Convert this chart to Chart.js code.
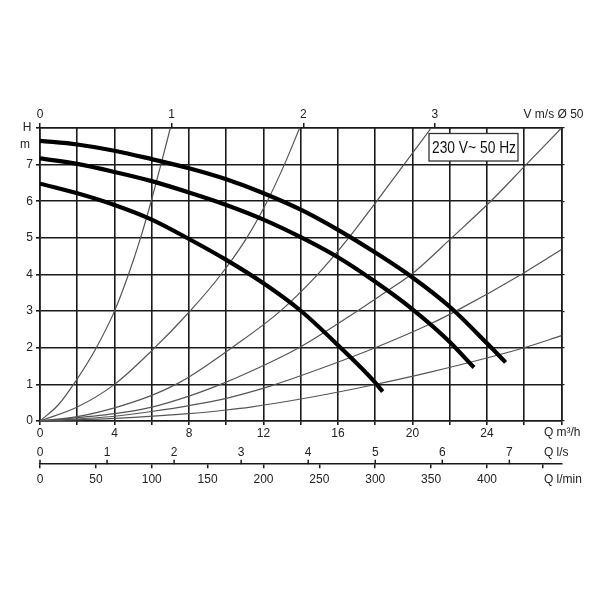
<!DOCTYPE html>
<html>
<head>
<meta charset="utf-8">
<script src="https://cdn.jsdelivr.net/npm/chart.js@4.4.1/dist/chart.umd.min.js"></script>
<style>
  html, body { margin: 0; padding: 0; background: #fff; }
</style>
</head>
<body>
<canvas id="chart" width="600" height="600"></canvas>
<script>
// pump curves: Q in m3/h, H in m
const pumpHighQ = [0, 2, 4, 6, 8, 10, 12, 14, 16, 18, 20, 22, 24, 25];
const pumpHighH = [7.65, 7.55, 7.38, 7.15, 6.9, 6.6, 6.22, 5.77, 5.22, 4.6, 3.92, 3.12, 2.12, 1.6];
const pumpMidQ = [0, 2, 4, 6, 8, 10, 12, 14, 16, 18, 20, 22, 23.3];
const pumpMidH = [7.17, 7.02, 6.8, 6.55, 6.24, 5.9, 5.5, 5.02, 4.47, 3.8, 3.05, 2.16, 1.46];
const pumpLowQ = [0, 2, 4, 6, 8, 10, 12, 14, 16, 18, 18.4];
const pumpLowH = [6.48, 6.22, 5.9, 5.5, 4.97, 4.4, 3.76, 3.01, 2.07, 1.05, 0.8];

// system curves (thin)
const sys1Q = [0, 1, 2, 3, 4, 4.75, 5.4, 5.97, 6.49, 7.0];
const sys1H = [0, 0.45, 1.15, 1.98, 3.0, 4, 5, 6, 7, 8];
const sys2Q = [0, 2, 4, 6, 8, 9.72, 11.1, 12.2, 13.12, 13.94];
const sys2H = [0, 0.38, 1.0, 1.92, 2.97, 4, 5, 6, 7, 8];
const sys3Q = [0, 2, 4, 6, 7.3, 8, 10.3, 12.9, 14.85, 16.5, 18.0, 19.5, 21.0];
const sys3H = [0, 0.12, 0.36, 0.7, 1.0, 1.2, 2.0, 3.0, 3.97, 4.95, 5.95, 6.97, 8.0];
const sys4Q = [0, 4, 6, 8, 9.7, 11.3, 13.9, 16.94, 18.5, 20.1, 22.1, 24.2, 26.1, 28];
const sys4H = [0, 0.2, 0.38, 0.68, 1.0, 1.35, 2.0, 2.97, 3.5, 4.07, 5.0, 6.0, 7.0, 8.0];
const sys5Q = [0, 4, 6, 8, 10, 12.4, 15, 18, 21, 22.4, 26, 28];
const sys5H = [0, 0.13, 0.26, 0.42, 0.62, 0.96, 1.42, 2.0, 2.66, 3.02, 4.05, 4.68];
const sys6Q = [0, 4, 8, 10, 11.3, 14, 17.75, 21, 26, 28];
const sys6H = [0, 0.07, 0.2, 0.3, 0.38, 0.6, 0.97, 1.34, 2.0, 2.33];

// axes
const gridQ = [0, 2, 4, 6, 8, 10, 12, 14, 16, 18, 20, 22, 24, 26, 28];
const m3hLabels = [0, 4, 8, 12, 16, 20, 24];
const headTicks = [0, 1, 2, 3, 4, 5, 6, 7, 8];
const headLabels = [0, 1, 2, 3, 4, 5, 6, 7];
const velocityTicks = [0, 1, 2, 3];
const lpsTicks = [0, 1, 2, 3, 4, 5, 6, 7];
const lminTicks = [0, 50, 100, 150, 200, 250, 300, 350, 400, 450];
const lminLabels = [0, 50, 100, 150, 200, 250, 300, 350, 400];

const qMax = 28;                       // m3/h
const pipeM3hPerMs = 3600 * Math.PI * 0.025 * 0.025; // m3/h at 1 m/s in DN50

const FONT = '"Liberation Sans", Arial, sans-serif';
const TEXT = '#222';
const GRID = '#1a1a1a';

function pts(q, h) {
  return q.map((x, i) => ({ x: x, y: h[i] }));
}

function thick(q, h) {
  return {
    data: pts(q, h), borderColor: '#000', borderWidth: 4.2, pointRadius: 0,
    cubicInterpolationMode: 'monotone', borderCapStyle: 'butt', fill: false
  };
}

function thin(q, h) {
  return {
    data: pts(q, h), borderColor: '#555', borderWidth: 1.2, pointRadius: 0,
    cubicInterpolationMode: 'monotone', fill: false
  };
}

const unitTextPlugin = {
  id: 'unitText',
  afterDatasetsDraw(chart) {
    const ctx = chart.ctx;
    const area = chart.chartArea;
    const sx = chart.scales.x;
    const sls = chart.scales.xls;
    const slm = chart.scales.xlmin;

    ctx.save();
    // small l/s ticks standing on the l/min line
    ctx.strokeStyle = GRID;
    ctx.lineWidth = 1.5;
    sls.ticks.forEach(t => {
      const px = sls.getPixelForValue(t.value);
      ctx.beginPath();
      ctx.moveTo(px, slm.top);
      ctx.lineTo(px, slm.top - 4.5);
      ctx.stroke();
    });

    ctx.font = '12px ' + FONT;
    ctx.fillStyle = TEXT;
    ctx.textBaseline = 'middle';
    ctx.textAlign = 'center';
    ctx.fillText('H', area.left - 13, area.top);
    ctx.fillText('m', area.left - 15, area.top + 17);

    ctx.textAlign = 'left';
    const ux = sx.getPixelForValue(27) + 1;
    ctx.fillText('Q m³/h', ux, sx.top + 12);
    ctx.fillText('Q l/s', ux, sls.top + 11.6);
    ctx.fillText('Q l/min', ux, slm.top + 15.6);

    ctx.textAlign = 'right';
    ctx.fillText('V m/s Ø 50', area.right + 22, area.top - 13);

    // supply box
    const bx = area.right - 132.5, by = area.top + 5.5, bw = 89, bh = 27.5;
    ctx.fillStyle = '#fff';
    ctx.fillRect(bx, by, bw, bh);
    ctx.strokeStyle = '#333';
    ctx.lineWidth = 1.3;
    ctx.strokeRect(bx, by, bw, bh);
    ctx.fillStyle = '#111';
    ctx.font = '16px ' + FONT;
    ctx.textAlign = 'left';
    const label = '230 V~ 50 Hz';
    const w = ctx.measureText(label).width;
    const k = 84 / w;
    ctx.translate(bx + 3, by + bh / 2 + 1);
    ctx.scale(k, 1);
    ctx.fillText(label, 0, 0);
    ctx.restore();
  }
};

const tickFont = { family: FONT, size: 12 };

new Chart(document.getElementById('chart'), {
  type: 'line',
  data: {
    datasets: [
      thick(pumpHighQ, pumpHighH),
      thick(pumpMidQ, pumpMidH),
      thick(pumpLowQ, pumpLowH),
      thin(sys1Q, sys1H),
      thin(sys2Q, sys2H),
      thin(sys3Q, sys3H),
      thin(sys4Q, sys4H),
      thin(sys5Q, sys5H),
      thin(sys6Q, sys6H)
    ]
  },
  options: {
    responsive: false,
    animation: false,
    layout: { padding: { top: 98, right: 35.5, bottom: 108.8, left: 0 } },
    plugins: {
      legend: { display: false },
      tooltip: { enabled: false }
    },
    scales: {
      x: {
        type: 'linear', position: 'bottom', weight: 0,
        min: 0, max: qMax,
        afterBuildTicks: s => { s.ticks = gridQ.map(v => ({ value: v })); },
        ticks: {
          autoSkip: false, maxRotation: 0, padding: 1, color: TEXT, font: tickFont,
          callback: v => m3hLabels.includes(v) ? String(v) : ''
        },
        grid: { color: GRID, lineWidth: 1.6, tickLength: 4 },
        border: { color: GRID, width: 1.6 },
        afterFit: s => { s.height = 20; }
      },
      xls: {
        type: 'linear', position: 'bottom', weight: 1,
        min: 0, max: qMax / 3.6,
        afterBuildTicks: s => { s.ticks = lpsTicks.map(v => ({ value: v })); },
        ticks: { autoSkip: false, maxRotation: 0, padding: 4.4, color: TEXT, font: tickFont },
        grid: { drawOnChartArea: false, drawTicks: false },
        border: { display: false },
        afterFit: s => { s.height = 23.2; }
      },
      xlmin: {
        type: 'linear', position: 'bottom', weight: 2,
        min: 0, max: qMax * 1000 / 60,
        afterBuildTicks: s => { s.ticks = lminTicks.map(v => ({ value: v })); },
        ticks: {
          autoSkip: false, maxRotation: 0, padding: 4, color: TEXT, font: tickFont,
          callback: v => lminLabels.includes(v) ? String(v) : ''
        },
        grid: { drawOnChartArea: false, color: GRID, lineWidth: 1.5, tickLength: 4 },
        border: { color: GRID, width: 1.5 },
        afterFit: s => { s.height = 27; }
      },
      xv: {
        type: 'linear', position: 'top',
        min: 0, max: qMax / pipeM3hPerMs,
        afterBuildTicks: s => { s.ticks = velocityTicks.map(v => ({ value: v })); },
        ticks: { autoSkip: false, maxRotation: 0, padding: 1, color: TEXT, font: tickFont },
        grid: { drawOnChartArea: false, color: GRID, lineWidth: 1.5, tickLength: 5 },
        border: { color: GRID, width: 1.6 },
        afterFit: s => { s.height = 30; }
      },
      y: {
        type: 'linear', position: 'left',
        min: 0, max: 8,
        afterBuildTicks: s => { s.ticks = headTicks.map(v => ({ value: v })); },
        ticks: {
          autoSkip: false, padding: 3, color: TEXT, font: tickFont,
          callback: v => headLabels.includes(v) ? String(v) : ''
        },
        grid: { color: GRID, lineWidth: 1.6, tickLength: 4 },
        border: { color: GRID, width: 1.6 },
        afterFit: s => { s.width = 40; }
      },
      yr: {
        type: 'linear', position: 'right',
        min: 0, max: 8,
        afterBuildTicks: s => { s.ticks = headTicks.map(v => ({ value: v })); },
        ticks: { display: false },
        grid: { drawOnChartArea: false, color: GRID, lineWidth: 1.2, tickLength: 3 },
        border: { color: GRID, width: 1.6 },
        afterFit: s => { s.width = 3; }
      }
    }
  },
  plugins: [unitTextPlugin]
});
</script>
</body>
</html>
